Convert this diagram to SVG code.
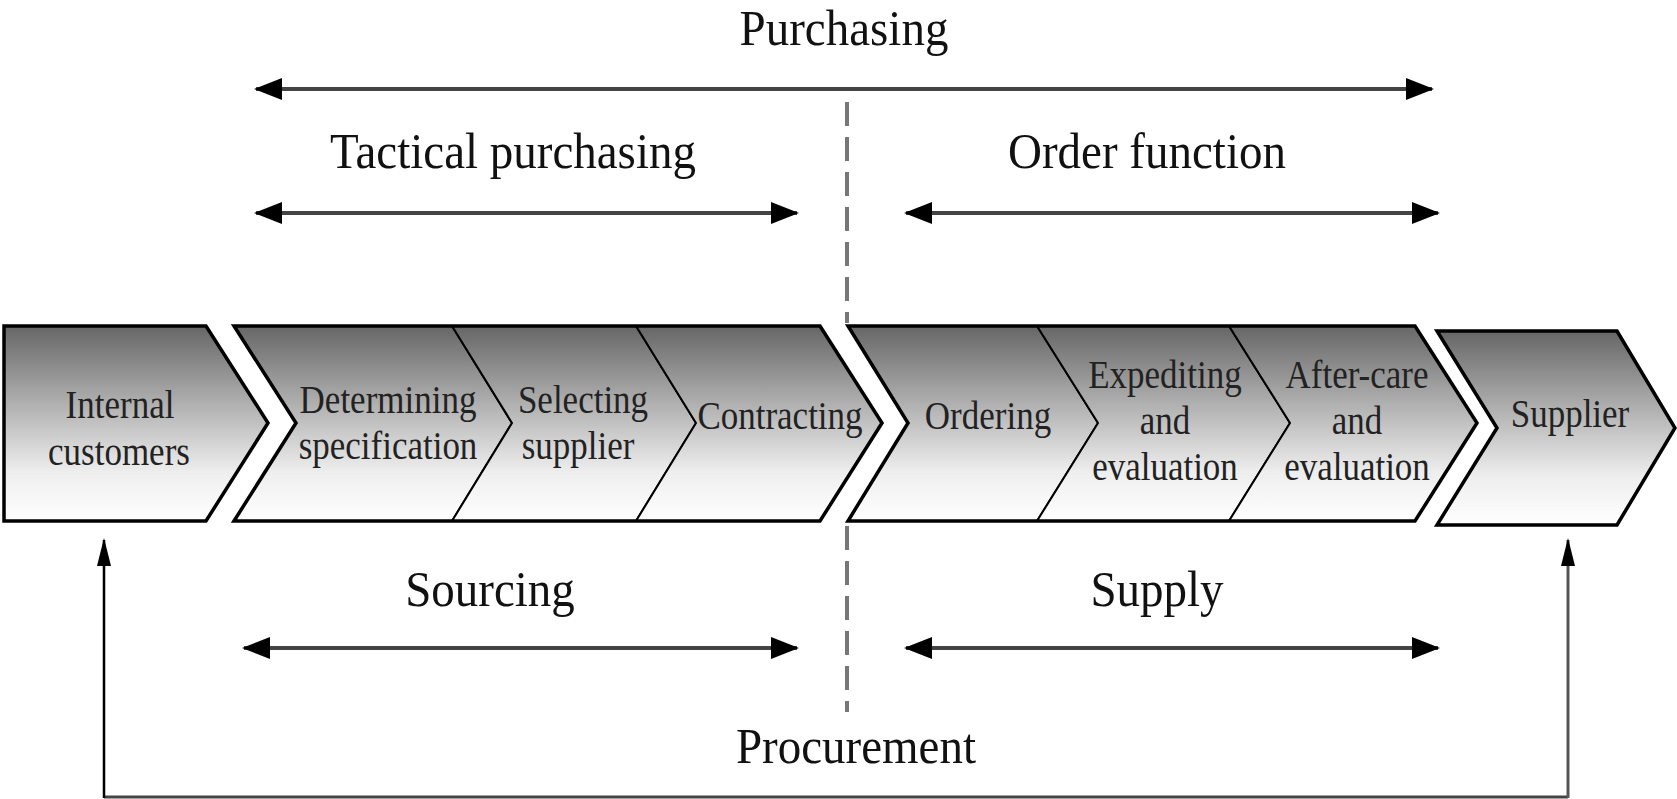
<svg xmlns="http://www.w3.org/2000/svg" width="1677" height="799" viewBox="0 0 1677 799">
<style>
  .step { fill: url(#grad); stroke: #000; stroke-width: 2; }
  .outline { fill: none; stroke: #000; stroke-width: 3.5; stroke-linejoin: miter; }
  .lbl { font-family: "Liberation Serif", "Times New Roman", serif; font-size: 35px; fill: #222; text-anchor: middle; transform-box: fill-box; transform-origin: center; transform: scaleY(1.12); }
  .big { font-family: "Liberation Serif", "Times New Roman", serif; font-size: 47px; fill: #111; text-anchor: middle; transform-box: fill-box; transform-origin: center; transform: scaleY(1.1); }
  .span { stroke: #444; stroke-width: 4; fill: none; marker-start: url(#ah); marker-end: url(#ah); }
  .dash { stroke: #777; stroke-width: 4; stroke-dasharray: 24 11; fill: none; }
</style>
<defs>
  <linearGradient id="grad" x1="0" y1="0" x2="0" y2="1">
    <stop offset="0" stop-color="#666666"/>
    <stop offset="0.4" stop-color="#b0b0b0"/>
    <stop offset="0.75" stop-color="#eeeeee"/>
    <stop offset="1" stop-color="#ffffff"/>
  </linearGradient>
  <marker id="ah" viewBox="0 0 28 22" refX="26" refY="11" markerWidth="28" markerHeight="22" markerUnits="userSpaceOnUse" orient="auto-start-reverse">
    <path d="M0,0 L28,11 L0,22 z" fill="#000"/>
  </marker>
  <marker id="av" viewBox="0 0 28 14" refX="26" refY="7" markerWidth="28" markerHeight="14" markerUnits="userSpaceOnUse" orient="auto">
    <path d="M0,0 L28,7 L0,14 z" fill="#000"/>
  </marker>
</defs>

<rect width="1677" height="799" fill="#fff"/>

<g id="internal-customers">
  <polygon class="step" points="4,326 206,326 268,423 206,521 4,521"/>
  <polygon class="outline" points="4,326 206,326 268,423 206,521 4,521"/>
  <text class="lbl" x="120" y="417">Internal</text>
  <text class="lbl" x="119" y="464">customers</text>
</g>

<g id="determining-specification">
  <polygon class="step" points="234,326 452,326 512,423 452,521 234,521 296,423"/>
  <text class="lbl" x="388" y="412">Determining</text>
  <text class="lbl" x="388" y="458">specification</text>
</g>
<g id="selecting-supplier">
  <polygon class="step" points="452,326 636,326 696,423 636,521 452,521 512,423"/>
  <text class="lbl" x="583" y="412">Selecting</text>
  <text class="lbl" x="578" y="458">supplier</text>
</g>
<g id="contracting">
  <polygon class="step" points="636,326 820,326 882,423 820,521 636,521 696,423"/>
  <text class="lbl" x="780" y="428">Contracting</text>
</g>
<polygon class="outline" points="234,326 820,326 882,423 820,521 234,521 296,423"/>

<g id="ordering">
  <polygon class="step" points="848,326 1037,326 1098,423 1037,521 848,521 908,423"/>
  <text class="lbl" x="988" y="428">Ordering</text>
</g>
<g id="expediting-evaluation">
  <polygon class="step" points="1037,326 1229,326 1290,423 1229,521 1037,521 1098,423"/>
  <text class="lbl" x="1165" y="387">Expediting</text>
  <text class="lbl" x="1165" y="433">and</text>
  <text class="lbl" x="1165" y="479">evaluation</text>
</g>
<g id="after-care-evaluation">
  <polygon class="step" points="1229,326 1415,326 1477,423 1415,521 1229,521 1290,423"/>
  <text class="lbl" x="1357" y="387">After-care</text>
  <text class="lbl" x="1357" y="433">and</text>
  <text class="lbl" x="1357" y="479">evaluation</text>
</g>
<polygon class="outline" points="848,326 1415,326 1477,423 1415,521 848,521 908,423"/>

<g id="supplier">
  <polygon class="step" points="1437,331 1617,331 1675,428 1617,525 1437,525 1497,428"/>
  <polygon class="outline" points="1437,331 1617,331 1675,428 1617,525 1437,525 1497,428"/>
  <text class="lbl" x="1570" y="426">Supplier</text>
</g>

<g id="labels">
  <text class="big" x="844" y="43">Purchasing</text>
  <text class="big" x="513" y="166">Tactical purchasing</text>
  <text class="big" x="1147" y="166">Order function</text>
  <text class="big" x="490" y="604">Sourcing</text>
  <text class="big" x="1157" y="604">Supply</text>
  <text class="big" x="856" y="761">Procurement</text>
</g>

<g id="connectors">
  <line class="dash" x1="847" y1="102" x2="847" y2="323"/>
  <line class="dash" x1="847" y1="526" x2="847" y2="712"/>
  <line class="span" x1="256" y1="89" x2="1432" y2="89"/>
  <line class="span" x1="256" y1="213" x2="797" y2="213"/>
  <line class="span" x1="906" y1="213" x2="1438" y2="213"/>
  <line class="span" x1="244" y1="648" x2="797" y2="648"/>
  <line class="span" x1="906" y1="648" x2="1438" y2="648"/>
  <polyline points="1568,797 104,797" fill="none" stroke="#444" stroke-width="3"/>
  <line x1="104" y1="798" x2="104" y2="540" stroke="#000" stroke-width="2.5" marker-end="url(#av)"/>
  <line x1="1568" y1="798" x2="1568" y2="540" stroke="#555" stroke-width="3" marker-end="url(#av)"/>
</g>
</svg>
